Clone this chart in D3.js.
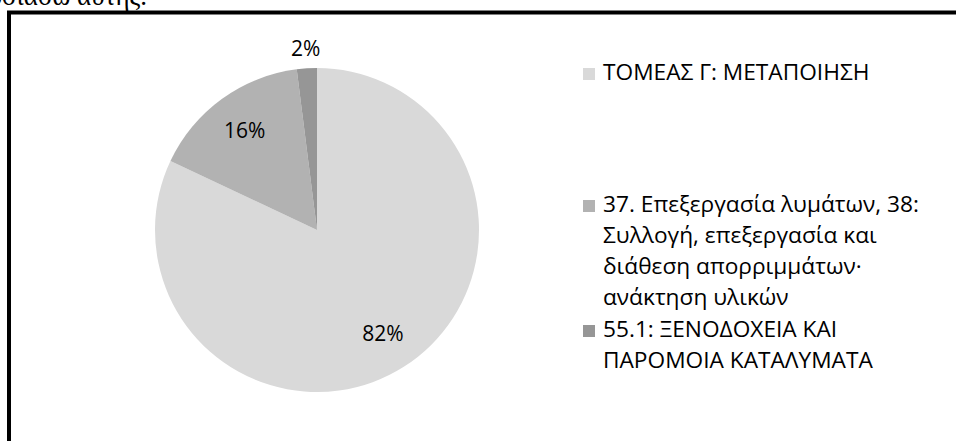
<!DOCTYPE html>
<html>
<head>
<meta charset="utf-8">
<script src="https://cdn.jsdelivr.net/npm/d3@7"></script>
<style>
  body { margin: 0; background: #fff; }
  svg text { font-family: "Open Sans", "Noto Sans", sans-serif; fill: #000; }
</style>
</head>
<body>
<script>
// chart data
const categories = [
    "ΤΟΜΕΑΣ Γ: ΜΕΤΑΠΟΙΗΣΗ",
    "37. Επεξεργασία λυμάτων, 38: Συλλογή, επεξεργασία και διάθεση απορριμμάτων· ανάκτηση υλικών",
    "55.1: ΞΕΝΟΔΟΧΕΙΑ ΚΑΙ ΠΑΡΟΜΟΙΑ ΚΑΤΑΛΥΜΑΤΑ"
];
// legend lines as wrapped in the picture
const legendLines = [
    ["ΤΟΜΕΑΣ Γ: ΜΕΤΑΠΟΙΗΣΗ"],
    ["37. Επεξεργασία λυμάτων, 38:", "Συλλογή, επεξεργασία και", "διάθεση απορριμμάτων·", "ανάκτηση υλικών"],
    ["55.1: ΞΕΝΟΔΟΧΕΙΑ ΚΑΙ", "ΠΑΡΟΜΟΙΑ ΚΑΤΑΛΥΜΑΤΑ"]
];
const values = [82, 16, 2];
const valueLabels = ["82%", "16%", "2%"];
const colors = ["#d9d9d9", "#b2b2b2", "#969696"];

const W = 956, H = 441;
const cx = 317, cy = 230, radius = 162;
const fontSize = "21px";

const svg = d3.select("body").append("svg")
    .attr("width", W)
    .attr("height", H);

// bit of page text cut by the crop
svg.append("text")
    .attr("x", 147)
    .attr("y", 5)
    .attr("text-anchor", "end")
    .style("font-family", "'Liberation Serif', 'DejaVu Serif', serif")
    .style("font-size", "27px")
    .text("παρουσιάσω αυτής.");

// frame (only top and left visible)
svg.append("path")
    .attr("d", "M9,441 V12.5 H956")
    .attr("fill", "none")
    .attr("stroke", "#000")
    .attr("stroke-width", 4);

let pie = d3.pie().sort(null).value(d => d);
let arc = d3.arc().innerRadius(0).outerRadius(radius);
let arcs = pie(values);

let g = svg.append("g").attr("transform", "translate(" + cx + "," + cy + ")");

g.selectAll("path.slice")
    .data(arcs)
    .enter().append("path")
    .attr("class", "slice")
    .attr("d", arc)
    .attr("fill", (d, i) => colors[i]);

// labels: inside for big slices, outside for the tiny one
g.selectAll("text.lbl")
    .data(arcs)
    .enter().append("text")
    .attr("class", "lbl")
    .attr("transform", function (d) {
        let r = d.data < 5 ? radius * 1.12 : radius * 0.76;
        let c = d3.arc().innerRadius(r).outerRadius(r).centroid(d);
        return "translate(" + c[0] + "," + c[1] + ")";
    })
    .attr("text-anchor", "middle")
    .attr("dy", "0.35em")
    .style("font-size", fontSize)
    .text((d, i) => valueLabels[i]);

// legend
const legendX = 583, lineH = 31;
const legendTop = [73, 205, 330];
let leg = svg.append("g");
legendLines.forEach(function (lines, i) {
    leg.append("rect")
        .attr("x", legendX)
        .attr("y", legendTop[i] - 5)
        .attr("width", 12)
        .attr("height", 12)
        .attr("fill", colors[i]);
    lines.forEach(function (ln, j) {
        leg.append("text")
            .attr("x", legendX + 20)
            .attr("y", legendTop[i] + j * lineH)
            .attr("dy", "0.35em")
            .style("font-size", fontSize)
            .attr("textLength", null)
            .text(ln);
    });
});
// stretch legend text slightly to the reference's Calibri-like widths
leg.selectAll("text").each(function () {
    let t = d3.select(this);
    let len = this.getComputedTextLength();
    t.attr("textLength", len * 1.08).attr("lengthAdjust", "spacingAndGlyphs");
});
</script>
</body>
</html>
